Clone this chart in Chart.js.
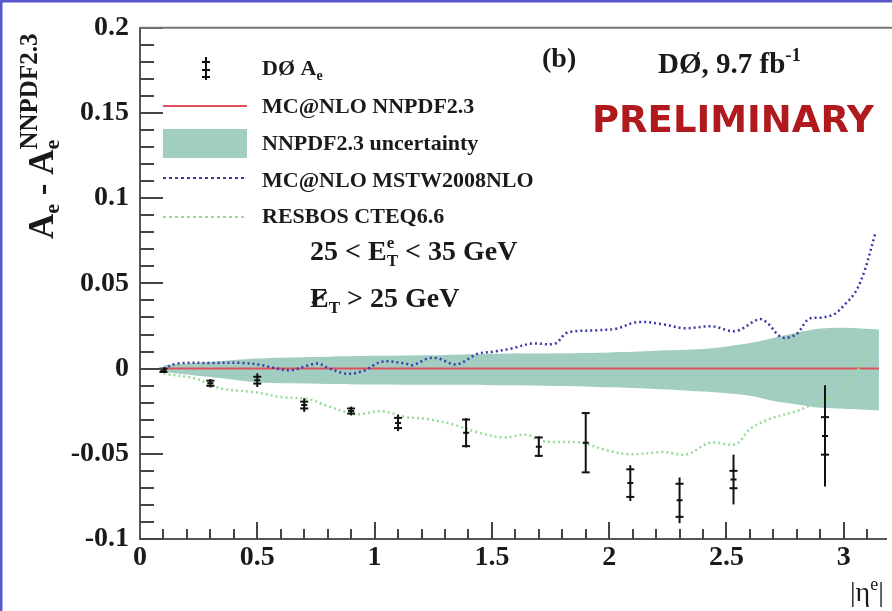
<!DOCTYPE html>
<html>
<head>
<meta charset="utf-8">
<script src="https://cdn.jsdelivr.net/npm/chart.js@4.4.0/dist/chart.umd.min.js"></script>
<style>
  html, body { margin: 0; padding: 0; background: #fff; }
  #wrap { width: 892px; height: 611px; }
</style>
</head>
<body>
<div id="wrap"><canvas id="asymChart" width="892" height="611"></canvas></div>
<script>
// D0 electron charge asymmetry minus MC@NLO NNPDF2.3, per |eta| bin
const etaBins   = [0.1, 0.3, 0.5, 0.7, 0.9, 1.1, 1.39, 1.7, 1.9, 2.09, 2.3, 2.53, 2.92];
const deltaAsym = [-0.001, -0.0086, -0.0068, -0.0214, -0.0249, -0.0319, -0.0377, -0.0458, -0.0435, -0.0672, -0.0773, -0.0651, -0.0395];
const statErr   = [0.001, 0.0015, 0.002, 0.002, 0.0015, 0.003, 0.0078, 0.0054, 0.0174, 0.0081, 0.0097, 0.0051, 0.011];
const totalErr  = [0.0015, 0.0025, 0.004, 0.004, 0.0026, 0.0048, 0.0086, 0.006, 0.0174, 0.0105, 0.0134, 0.0146, 0.0297];

// MC@NLO NNPDF2.3 reference (zero by construction)
const nnpdfEta  = [0.1, 3.15];
const nnpdfDiff = [0, 0];

// NNPDF2.3 PDF uncertainty band
const bandEta = [0.1, 0.3, 0.5, 0.8, 1.0, 1.3, 1.5, 1.8, 2.0, 2.2, 2.4, 2.5, 2.6, 2.7, 2.8, 2.9, 3.0, 3.15];
const bandUp  = [0.002, 0.004, 0.006, 0.007, 0.0075, 0.008, 0.0087, 0.009, 0.0095, 0.0105, 0.0115, 0.013, 0.015, 0.018, 0.021, 0.0235, 0.024, 0.023];
const bandLo  = [-0.002, -0.005, -0.008, -0.009, -0.0093, -0.0095, -0.0097, -0.0102, -0.011, -0.012, -0.0135, -0.0145, -0.016, -0.019, -0.021, -0.023, -0.0235, -0.0245];

// MC@NLO MSTW2008NLO minus NNPDF2.3
const mstwEta  = [0.1, 0.16, 0.3, 0.44, 0.52, 0.57, 0.64, 0.72, 0.76, 0.8, 0.88, 0.95, 1.03, 1.13, 1.16, 1.23, 1.27, 1.35, 1.44, 1.51,
                  1.58, 1.67, 1.77, 1.82, 1.95, 2.03, 2.12, 2.23, 2.32, 2.44, 2.54, 2.64, 2.68, 2.72, 2.75, 2.8, 2.85, 2.91, 2.96, 3.0, 3.05, 3.09, 3.135];
const mstwDiff = [0, 0.003, 0.0033, 0.0033, 0.002, 0.0005, -0.001, 0.002, 0.003, 0.0005, -0.003, -0.0015, 0.004, 0.003, 0.002, 0.006, 0.006, 0.0025, 0.0087, 0.01,
                  0.0117, 0.0147, 0.0147, 0.021, 0.0225, 0.0234, 0.0273, 0.026, 0.0237, 0.0248, 0.022, 0.029, 0.026, 0.0197, 0.018, 0.0205, 0.029, 0.03, 0.032, 0.037, 0.045, 0.058, 0.0797];

// RESBOS CTEQ6.6 minus NNPDF2.3
const resbosEta  = [0.1, 0.24, 0.34, 0.5, 0.6, 0.72, 0.8, 0.92, 1.03, 1.13, 1.23, 1.34, 1.44, 1.55, 1.65, 1.71, 1.88, 1.99, 2.09, 2.23,
                    2.33, 2.43, 2.54, 2.6, 2.68, 2.8, 2.88, 2.97, 3.04, 3.09, 3.14];
const resbosDiff = [-0.003, -0.006, -0.0115, -0.014, -0.0167, -0.018, -0.022, -0.0267, -0.025, -0.0283, -0.0297, -0.033, -0.0375, -0.0404, -0.0388, -0.0425, -0.0435, -0.048, -0.0503, -0.049,
                    -0.0503, -0.0435, -0.0443, -0.0355, -0.0297, -0.0249, -0.0202, -0.0153, -0.0055, 0.006, 0.0142];

// axis ranges and tick steps
const xRange = [0, 3.18];
const yRange = [-0.1, 0.2];
const xStep = 0.5;
const yStep = 0.05;

const SERIF = '"Liberation Serif", "Times New Roman", serif';
const RED = '#e0505c';
const BAND = '#a2cec2';
const BLUE = '#3a3aa8';
const GREEN = '#96dc96';

const toPoints = (xs, ys) => xs.map((v, i) => ({ x: v, y: ys[i] }));
// ROOT-like labels: no trailing zeros
const plainTick = (value) => String(Number(value.toFixed(3)));

// vertical error bars: line spans total error, caps mark the statistical part
const errorBars = {
  id: 'errorBars',
  afterDatasetsDraw(chart) {
    const { ctx, scales: { x, y } } = chart;
    ctx.save();
    ctx.strokeStyle = '#111';
    ctx.lineWidth = 2;
    etaBins.forEach((eta, i) => {
      const px = x.getPixelForValue(eta);
      const v = deltaAsym[i];
      ctx.beginPath();
      ctx.moveTo(px, y.getPixelForValue(v + totalErr[i]));
      ctx.lineTo(px, y.getPixelForValue(v - totalErr[i]));
      ctx.stroke();
      [v + statErr[i], v - statErr[i]].forEach((e) => {
        const py = y.getPixelForValue(e);
        ctx.beginPath();
        ctx.moveTo(px - 4, py);
        ctx.lineTo(px + 4, py);
        ctx.stroke();
      });
    });
    ctx.restore();
  },
};

// inward ROOT-style ticks plus the top frame line
const axisTicks = {
  id: 'axisTicks',
  afterDraw(chart) {
    const { ctx, chartArea: area, scales: { x, y } } = chart;
    ctx.save();
    ctx.strokeStyle = '#444';
    ctx.lineWidth = 2;
    for (let k = -10; k <= 20; k++) {
      const py = Math.round(y.getPixelForValue(k / 100));
      const len = k % 5 === 0 ? 23 : 14;
      ctx.beginPath();
      ctx.moveTo(area.left, py);
      ctx.lineTo(area.left + len, py);
      ctx.stroke();
    }
    for (let k = 1; k <= 31; k++) {
      const px = Math.round(x.getPixelForValue(k / 10));
      const len = k % 5 === 0 ? 17 : 10;
      ctx.beginPath();
      ctx.moveTo(px, area.bottom);
      ctx.lineTo(px, area.bottom - len);
      ctx.stroke();
    }
    ctx.strokeStyle = '#777';
    ctx.beginPath();
    ctx.moveTo(area.left, area.top);
    ctx.lineTo(chart.width, area.top);
    ctx.stroke();

    // page frame
    ctx.strokeStyle = '#5858cc';
    ctx.lineWidth = 3;
    ctx.beginPath();
    ctx.moveTo(0, 1);
    ctx.lineTo(chart.width, 1);
    ctx.moveTo(1, 0);
    ctx.lineTo(1, chart.height);
    ctx.stroke();
    ctx.restore();
  },
};

// draws text pieces in a row; each piece may be shifted up/down and shrunk
function drawRich(ctx, x, y, pieces) {
  let cx = x;
  pieces.forEach((p) => {
    ctx.font = `${p.weight || 'bold'} ${p.size}px ${p.family || SERIF}`;
    ctx.fillText(p.text, cx, y + (p.dy || 0));
    if (!p.stack) cx += ctx.measureText(p.text).width;
  });
  return cx;
}

// legend, labels and annotations
const annotations = {
  id: 'annotations',
  afterDraw(chart) {
    const { ctx } = chart;
    ctx.save();
    ctx.fillStyle = '#1a1a1a';
    ctx.textBaseline = 'alphabetic';

    // legend symbols
    ctx.strokeStyle = '#111';
    ctx.lineWidth = 2;
    ctx.beginPath();
    ctx.moveTo(206, 57); ctx.lineTo(206, 80);
    [62, 70, 77].forEach((ty) => { ctx.moveTo(202, ty); ctx.lineTo(210, ty); });
    ctx.stroke();

    ctx.strokeStyle = RED;
    ctx.beginPath(); ctx.moveTo(163, 106); ctx.lineTo(247, 106); ctx.stroke();
    ctx.fillStyle = BAND;
    ctx.fillRect(163, 129, 84, 29);
    ctx.setLineDash([3, 3]);
    ctx.strokeStyle = BLUE;
    ctx.beginPath(); ctx.moveTo(163, 178); ctx.lineTo(247, 178); ctx.stroke();
    ctx.strokeStyle = GREEN;
    ctx.beginPath(); ctx.moveTo(163, 217); ctx.lineTo(247, 217); ctx.stroke();
    ctx.setLineDash([]);

    ctx.fillStyle = '#1a1a1a';
    drawRich(ctx, 262, 75, [{ text: 'DØ A', size: 22 }, { text: 'e', size: 14, dy: 5 }]);
    drawRich(ctx, 262, 113, [{ text: 'MC@NLO NNPDF2.3', size: 22 }]);
    drawRich(ctx, 262, 150, [{ text: 'NNPDF2.3 uncertainty', size: 22 }]);
    drawRich(ctx, 262, 187, [{ text: 'MC@NLO MSTW2008NLO', size: 22 }]);
    drawRich(ctx, 262, 223, [{ text: 'RESBOS CTEQ6.6', size: 22 }]);

    // header
    drawRich(ctx, 542, 67, [{ text: '(b)', size: 28 }]);
    drawRich(ctx, 658, 73, [{ text: 'DØ, 9.7 fb', size: 29 }, { text: '-1', size: 19, dy: -12 }]);
    ctx.fillStyle = '#b01a1f';
    drawRich(ctx, 592, 132, [{ text: 'PRELIMINARY', size: 37, family: '"DejaVu Sans", sans-serif' }]);

    // kinematic cuts
    ctx.fillStyle = '#1a1a1a';
    drawRich(ctx, 310, 260, [
      { text: '25 < E', size: 28 },
      { text: 'e', size: 17, dy: -12, stack: true },
      { text: 'T', size: 17, dy: 6 },
      { text: ' < 35 GeV', size: 28 },
    ]);
    const eEnd = drawRich(ctx, 310, 307, [{ text: 'E', size: 28 }]);
    ctx.strokeStyle = '#1a1a1a';
    ctx.lineWidth = 2;
    ctx.beginPath(); ctx.moveTo(312, 303); ctx.lineTo(eEnd - 2, 292); ctx.stroke();
    drawRich(ctx, eEnd, 307, [{ text: 'T', size: 17, dy: 6 }, { text: ' > 25 GeV', size: 28 }]);

    // x-axis title
    drawRich(ctx, 850, 601, [
      { text: '|η', size: 28, weight: 'normal' },
      { text: 'e', size: 18, dy: -11, weight: 'normal' },
      { text: '|', size: 28, weight: 'normal' },
    ]);

    // y-axis title, rotated
    ctx.translate(53, 239);
    ctx.rotate(-Math.PI / 2);
    const a2 = drawRich(ctx, 0, 0, [
      { text: 'A', size: 35 },
      { text: 'e', size: 22, dy: 6 },
      { text: ' - A', size: 35 },
    ]);
    drawRich(ctx, a2, 0, [{ text: 'e', size: 22, dy: 6, stack: true }]);
    drawRich(ctx, a2, -16, [{ text: 'NNPDF2.3', size: 25 }]);
    ctx.restore();
  },
};

const tickFont = { family: SERIF, weight: 'bold', size: 28 };

new Chart(document.getElementById('asymChart'), {
  type: 'scatter',
  data: {
    datasets: [
      {
        label: 'DØ A_e',
        data: toPoints(etaBins, deltaAsym),
        pointStyle: 'line',
        pointRadius: 3,
        borderColor: '#111',
        borderWidth: 2,
        order: 1,
      },
      {
        label: 'MC@NLO NNPDF2.3',
        data: toPoints(nnpdfEta, nnpdfDiff),
        showLine: true,
        borderColor: RED,
        borderWidth: 2,
        pointRadius: 0,
        order: 4,
      },
      {
        label: 'NNPDF2.3 uncertainty',
        data: toPoints(bandEta, bandUp),
        showLine: true,
        borderWidth: 0,
        pointRadius: 0,
        tension: 0.3,
        backgroundColor: BAND,
        fill: '+1',
        order: 6,
      },
      {
        label: 'band low',
        data: toPoints(bandEta, bandLo),
        showLine: true,
        borderWidth: 0,
        pointRadius: 0,
        tension: 0.3,
        fill: false,
        order: 5,
      },
      {
        label: 'MC@NLO MSTW2008NLO',
        data: toPoints(mstwEta, mstwDiff),
        showLine: true,
        borderColor: BLUE,
        borderWidth: 2.5,
        borderDash: [2, 3],
        pointRadius: 0,
        tension: 0.35,
        order: 3,
      },
      {
        label: 'RESBOS CTEQ6.6',
        data: toPoints(resbosEta, resbosDiff),
        showLine: true,
        borderColor: GREEN,
        borderWidth: 2.5,
        borderDash: [2, 3],
        pointRadius: 0,
        tension: 0.35,
        order: 2,
      },
    ],
  },
  options: {
    responsive: false,
    animation: false,
    devicePixelRatio: 1,
    layout: { padding: { left: 0, top: 24, right: 2, bottom: 0 } },
    plugins: { legend: { display: false }, tooltip: { enabled: false } },
    scales: {
      x: {
        type: 'linear',
        min: xRange[0],
        max: xRange[1],
        grid: { display: false, drawTicks: false },
        border: { display: true, color: '#555', width: 2 },
        ticks: { stepSize: xStep, includeBounds: false, padding: 2, color: '#1a1a1a', font: tickFont, maxRotation: 0, callback: plainTick },
        afterFit: (scale) => { scale.height = 72; },
      },
      y: {
        min: yRange[0],
        max: yRange[1],
        grid: { display: false, drawTicks: false },
        border: { display: true, color: '#555', width: 2 },
        ticks: { stepSize: yStep, padding: 11, color: '#1a1a1a', font: tickFont, callback: plainTick },
        afterFit: (scale) => { scale.width = 140; },
      },
    },
  },
  plugins: [errorBars, axisTicks, annotations],
});
</script>
</body>
</html>
